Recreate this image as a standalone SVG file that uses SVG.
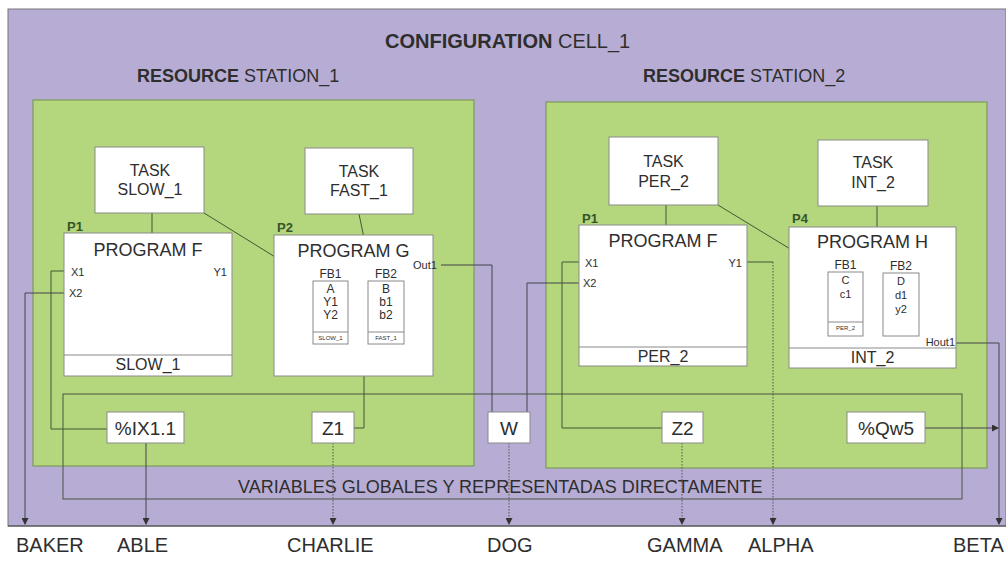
<svg xmlns="http://www.w3.org/2000/svg" width="1006" height="571" viewBox="0 0 1006 571">
<defs>
<marker id="arr" markerWidth="7" markerHeight="7" refX="6" refY="3.5" orient="auto" markerUnits="userSpaceOnUse">
<path d="M0,0 L7,3.5 L0,7 Z" fill="#333"/>
</marker>
<style>
text{font-family:"Liberation Sans",Arial,sans-serif;fill:#2e2e2e}
.bx{fill:#fff;stroke:#8a8a8a;stroke-width:1}
.res{fill:#b4d67c;stroke:#7d9a5c;stroke-width:1.2}
.ln{fill:none;stroke:#3f5a35;stroke-width:1}
.lp{fill:none;stroke:#444450;stroke-width:1}
.dt{fill:none;stroke:#555;stroke-width:1;stroke-dasharray:1.5,1.5}
.t16{font-size:16px;text-anchor:middle}
.t18{font-size:18px;text-anchor:middle}
.pl{font-size:13px;font-weight:bold;fill:#35552a}
.io{font-size:11px}
.fb{font-size:12px}
.fh{font-size:11px}
.fs{font-size:6px}
.var{font-size:19px;text-anchor:middle}
.lab{font-size:20px}
</style>
</defs>
<rect x="0" y="0" width="1006" height="571" fill="#fff"/>
<g id="config">
<rect x="8" y="9" width="998" height="517" fill="#b7add4" stroke="#777" stroke-width="1"/>
<line x1="8" y1="526" x2="1006" y2="526" stroke="#444" stroke-width="1.2"/>
<text x="385" y="48" font-size="20"><tspan font-weight="bold">CONFIGURATION</tspan> CELL_1</text>
</g>
<g id="station1">
<rect class="res" x="33" y="100" width="441" height="366"/>
<text x="137" y="82" font-size="18"><tspan font-weight="bold">RESOURCE</tspan> STATION_1</text>
</g>
<g id="station2">
<rect class="res" x="546" y="102" width="441" height="366"/>
<text x="643" y="82" font-size="18"><tspan font-weight="bold">RESOURCE</tspan> STATION_2</text>
</g>
<g id="globals">
<rect x="63" y="394" width="899" height="105" fill="none" stroke="#4a5545" stroke-width="1"/>
<text x="238" y="493" font-size="18">VARIABLES GLOBALES Y REPRESENTADAS DIRECTAMENTE</text>
</g>
<g id="connectors">
<path class="ln" d="M152,213 V233"/>
<path class="ln" d="M204,213 L314,281"/>
<path class="ln" d="M359,214 L373,281"/>
<path class="ln" d="M70,271 H51 V429 H107"/>
<path class="lp" d="M68,293 H25 V524" marker-end="url(#arr)"/>
<path class="lp" d="M146,443 V524" marker-end="url(#arr)"/>
<path class="ln" d="M348,302 H368"/>
<path class="ln" d="M348,316 H368"/>
<path class="ln" d="M358,302 V265 H412"/>
<path class="lp" d="M441,265 H492 V412"/>
<path class="ln" d="M364,316 V428 H354"/>
<path class="dt" d="M333,443 V524" marker-end="url(#arr)"/>
<path class="dt" d="M509,443 V524" marker-end="url(#arr)"/>
<path class="lp" d="M527,412 V283 H581"/>
<path class="ln" d="M584,262 H562 V428 H662"/>
<path class="dt" d="M682,443 V524" marker-end="url(#arr)"/>
<path class="ln" d="M745,262 H773"/>
<path class="dt" d="M773,262 V524" marker-end="url(#arr)"/>
<path class="ln" d="M666,205 V225"/>
<path class="ln" d="M718,205 L828,272"/>
<path class="ln" d="M877,206 V227"/>
<path class="ln" d="M863,293 H883"/>
<path class="lp" d="M956,343 H999 V524" marker-end="url(#arr)"/>
<path class="lp" d="M925,428 H998" marker-end="url(#arr)"/>
</g>
<g id="task_slow1">
<rect class="bx" x="95" y="147" width="109" height="66"/>
<text class="t16" x="150" y="176">TASK</text>
<text class="t16" x="150" y="195">SLOW_1</text>
</g>
<g id="task_fast1">
<rect class="bx" x="305" y="148" width="108" height="66"/>
<text class="t16" x="359" y="177">TASK</text>
<text class="t16" x="359" y="196">FAST_1</text>
</g>
<g id="task_per2">
<rect class="bx" x="609" y="137" width="109" height="68"/>
<text class="t16" x="663.5" y="167">TASK</text>
<text class="t16" x="663.5" y="187">PER_2</text>
</g>
<g id="task_int2">
<rect class="bx" x="818" y="140" width="110" height="66"/>
<text class="t16" x="873" y="168">TASK</text>
<text class="t16" x="873" y="188">INT_2</text>
</g>
<g id="prog_f1">
<rect class="bx" x="64" y="233" width="168" height="143"/>
<line x1="64" y1="355" x2="232" y2="355" stroke="#8a8a8a"/>
<text class="pl" x="67" y="231">P1</text>
<text class="t18" x="148" y="256">PROGRAM F</text>
<text class="io" x="71" y="276">X1</text>
<text class="io" x="69" y="297">X2</text>
<text class="io" x="227" y="276" text-anchor="end">Y1</text>
<text class="t16" x="148" y="370">SLOW_1</text>
</g>
<g id="prog_g">
<rect class="bx" x="274" y="235" width="159" height="141"/>
<text class="pl" x="277" y="232">P2</text>
<text class="t18" x="353.5" y="257">PROGRAM G</text>
<text class="io" x="413" y="269">Out1</text>
</g>
<g id="fb1_g">
<rect class="bx" x="313" y="281" width="35" height="63"/>
<line x1="313" y1="332" x2="348" y2="332" stroke="#8a8a8a"/>
<text class="fb" x="330.5" y="278" text-anchor="middle">FB1</text>
<text class="fb" x="330.5" y="293" text-anchor="middle">A</text>
<text class="fb" x="330.5" y="306" text-anchor="middle">Y1</text>
<text class="fb" x="330.5" y="319" text-anchor="middle">Y2</text>
<text class="fs" x="330.5" y="340" text-anchor="middle">SLOW_1</text>
</g>
<g id="fb2_g">
<rect class="bx" x="368" y="281" width="36" height="63"/>
<line x1="368" y1="332" x2="404" y2="332" stroke="#8a8a8a"/>
<text class="fb" x="386" y="278" text-anchor="middle">FB2</text>
<text class="fb" x="386" y="293" text-anchor="middle">B</text>
<text class="fb" x="386" y="306" text-anchor="middle">b1</text>
<text class="fb" x="386" y="319" text-anchor="middle">b2</text>
<text class="fs" x="386" y="340" text-anchor="middle">FAST_1</text>
</g>
<g id="prog_f2">
<rect class="bx" x="579" y="225" width="168" height="141"/>
<line x1="579" y1="347" x2="747" y2="347" stroke="#8a8a8a"/>
<text class="pl" x="582" y="223">P1</text>
<text class="t18" x="663" y="247">PROGRAM F</text>
<text class="io" x="585" y="267">X1</text>
<text class="io" x="583" y="287">X2</text>
<text class="io" x="742" y="267" text-anchor="end">Y1</text>
<text class="t16" x="663" y="362">PER_2</text>
</g>
<g id="prog_h">
<rect class="bx" x="789" y="227" width="167" height="141"/>
<line x1="789" y1="348" x2="956" y2="348" stroke="#8a8a8a"/>
<text class="pl" x="792" y="223">P4</text>
<text class="t18" x="872.5" y="248">PROGRAM H</text>
<text class="io" x="955" y="346" text-anchor="end">Hout1</text>
<text class="t16" x="872.5" y="363">INT_2</text>
</g>
<g id="fb1_h">
<rect class="bx" x="828" y="272" width="35" height="64"/>
<line x1="828" y1="322" x2="863" y2="322" stroke="#8a8a8a"/>
<text class="fb" x="845.5" y="269" text-anchor="middle">FB1</text>
<text class="fh" x="845.5" y="284" text-anchor="middle">C</text>
<text class="fh" x="845.5" y="298" text-anchor="middle">c1</text>
<text class="fs" x="845.5" y="330" text-anchor="middle">PER_2</text>
</g>
<g id="fb2_h">
<rect class="bx" x="883" y="273" width="36" height="63"/>
<text class="fb" x="901" y="270" text-anchor="middle">FB2</text>
<text class="fh" x="901" y="285" text-anchor="middle">D</text>
<text class="fh" x="901" y="299" text-anchor="middle">d1</text>
<text class="fh" x="901" y="313" text-anchor="middle">y2</text>
</g>
<g id="var_ix11">
<rect class="bx" x="107" y="412" width="77" height="31"/>
<text class="var" x="145.5" y="435">%IX1.1</text>
</g>
<g id="var_z1">
<rect class="bx" x="312" y="412" width="42" height="31"/>
<text class="var" x="333" y="435">Z1</text>
</g>
<g id="var_w">
<rect class="bx" x="488" y="412" width="42" height="31"/>
<text class="var" x="509" y="435">W</text>
</g>
<g id="var_z2">
<rect class="bx" x="662" y="412" width="41" height="31"/>
<text class="var" x="682.5" y="435">Z2</text>
</g>
<g id="var_qw5">
<rect class="bx" x="847" y="412" width="78" height="31"/>
<text class="var" x="886" y="435">%Qw5</text>
</g>
<g id="labels">
<text class="lab" x="16" y="552">BAKER</text>
<text class="lab" x="117" y="552">ABLE</text>
<text class="lab" x="287" y="552">CHARLIE</text>
<text class="lab" x="487" y="552">DOG</text>
<text class="lab" x="647" y="552">GAMMA</text>
<text class="lab" x="748" y="552">ALPHA</text>
<text class="lab" x="953" y="552">BETA</text>
</g>
</svg>
